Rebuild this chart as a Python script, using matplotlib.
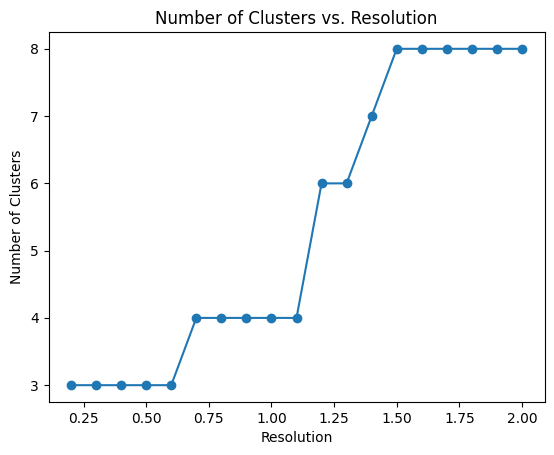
import matplotlib
matplotlib.use("Agg")
import matplotlib.pyplot as plt

resolution = [0.2, 0.3, 0.4, 0.5, 0.6, 0.7, 0.8, 0.9, 1.0, 1.1, 1.2, 1.3, 1.4, 1.5, 1.6, 1.7, 1.8, 1.9, 2.0]
n_clusters = [3, 3, 3, 3, 3, 4, 4, 4, 4, 4, 6, 6, 7, 8, 8, 8, 8, 8, 8]

fig = plt.figure(figsize=(5.54, 4.55), dpi=100)
ax = fig.add_axes([48.5/554, 1-402/455, (544.5-48.5)/554, (402-32)/455])
ax.plot(resolution, n_clusters, marker='o')
ax.set_title("Number of Clusters vs. Resolution")
ax.set_xlabel("Resolution")
ax.set_ylabel("Number of Clusters")
fig.savefig("out.png", dpi=100)
